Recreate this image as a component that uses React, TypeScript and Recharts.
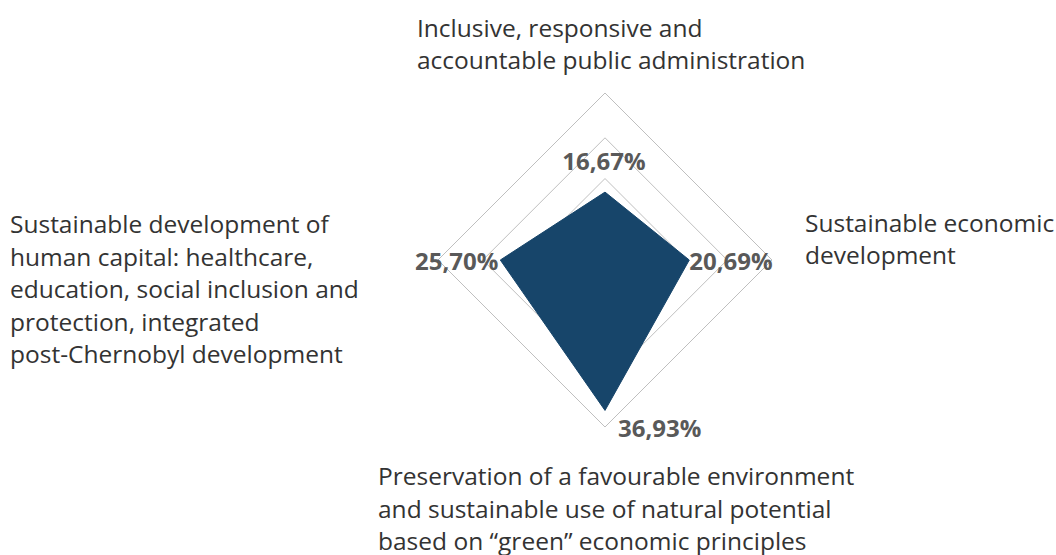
import React from 'react';
import { RadarChart, Radar, PolarGrid, PolarAngleAxis, PolarRadiusAxis } from 'recharts';

const categories = [
  'Inclusive, responsive and accountable public administration',
  'Sustainable economic development',
  'Preservation of a favourable environment and sustainable use of natural potential based on “green” economic principles',
  'Sustainable development of human capital: healthcare, education, social inclusion and protection, integrated post-Chernobyl development',
];
const categoryLines = [
  ['Inclusive, responsive and', 'accountable public administration'],
  ['Sustainable economic', 'development'],
  ['Preservation of a favourable environment', 'and sustainable use of natural potential', 'based on “green” economic principles'],
  ['Sustainable development of', 'human capital: healthcare,', 'education, social inclusion and', 'protection, integrated', 'post-Chernobyl development'],
];
const shares = [16.67, 20.69, 36.93, 25.7];
const ringTicks = [20, 30, 41];

const data = categories.map((c, i) => ({ category: c, share: shares[i] }));

const FONT = '"Open Sans", sans-serif';

// label block offsets relative to axis tick point: [dx, first baseline dy, line height]
const tickOffsets: [number, number, number][] = [
  [-188, -48, 32],
  [25, -28, 32],
  [-227, 50, 32.5],
  [-420, -27, 32.5],
];

const AngleTick = (props: any) => {
  const { x, y, index } = props;
  const [dx, dy, lh] = tickOffsets[index];
  const lines = categoryLines[index];
  return (
    <g>
      {lines.map((ln, i) => (
        <text key={i} x={x + dx} y={y + dy + i * lh} textAnchor="start" fontFamily={FONT} fontSize={24.5} fill="#333333">
          {ln}
        </text>
      ))}
    </g>
  );
};

const labelOffsets: [number, number, 'start' | 'middle' | 'end'][] = [
  [-1, -32, 'middle'],
  [0, 0, 'start'],
  [13, 17, 'start'],
  [-2, 0, 'end'],
];

const ValueLabel = (props: any) => {
  const { x, y, value, index } = props;
  const [dx, dy, anchor] = labelOffsets[index] || [0, 0, 'middle'];
  const txt = Number(value).toFixed(2).replace('.', ',') + '%';
  return (
    <text x={x + dx} y={y + dy} textAnchor={anchor} dominantBaseline="central" fontFamily={FONT} fontWeight={700} fontSize={24} fill="#595959">
      {txt}
    </text>
  );
};

export default function App() {
  return (
    <div style={{ position: 'absolute', left: 0, top: 0, width: 1056, height: 555, background: '#fff' }}>
      <RadarChart width={1056} height={555} data={data} cx={605} cy={260} outerRadius={167} margin={{ top: 0, right: 0, bottom: 0, left: 0 }}>
        <PolarGrid gridType="polygon" radialLines={false} stroke="#bfbfbf" strokeWidth={1} />
        <PolarAngleAxis dataKey="category" tick={<AngleTick />} tickLine={false} axisLine={false} />
        <PolarRadiusAxis domain={[0, 41]} ticks={ringTicks as any} tick={false} axisLine={false} tickCount={3} />
        <Radar dataKey="share" fill="#17456a" fillOpacity={1} stroke="#17456a" isAnimationActive={false} label={<ValueLabel />} />
      </RadarChart>
    </div>
  );
}
